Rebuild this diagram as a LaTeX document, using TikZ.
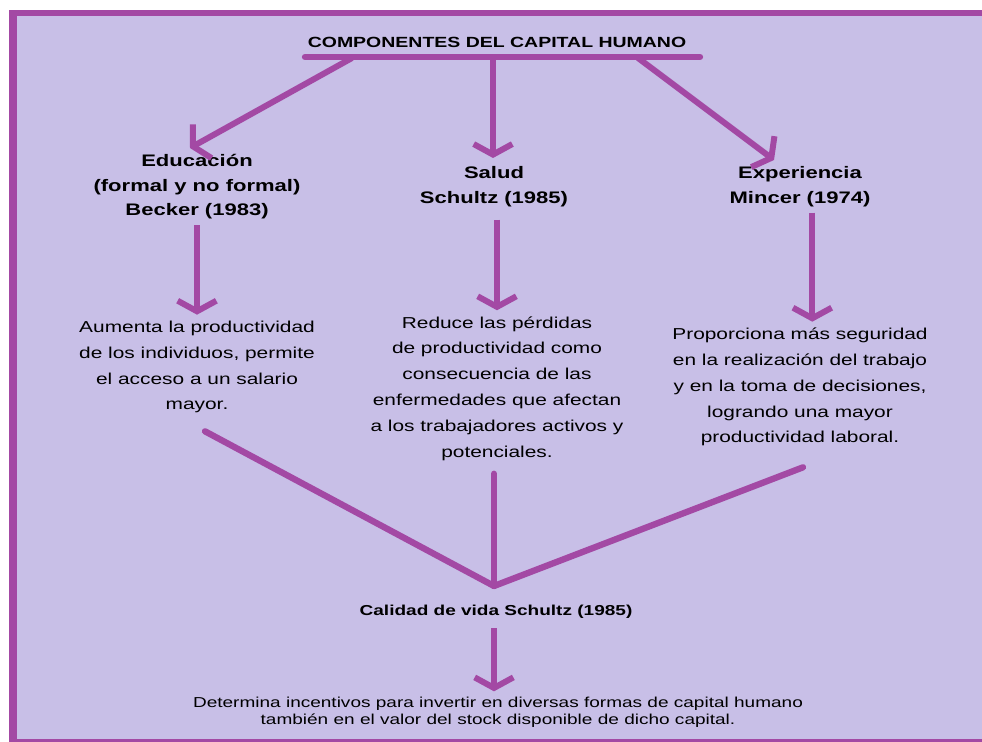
\documentclass[tikz,border=0pt]{standalone}
\usepackage{fontspec}
\setmainfont{Liberation Sans}[FakeStretch=1.32]
\usetikzlibrary{arrows.meta}
\definecolor{violeta}{HTML}{A349A4}
\definecolor{lila}{HTML}{C8BFE7}

\begin{document}
\begin{tikzpicture}[x=0.02cm,y=-0.02cm]

\tikzset{comp/.style = {font=\bfseries\fontsize{9.5}{13.9}\selectfont, align=center}}
\tikzset{efecto/.style = {font=\fontsize{9}{14.7}\selectfont, align=center}}
\tikzset{arc/.style = {-{Straight Barb[length=6pt,width=22pt]}, draw=violeta, line width=3.4pt}}
\tikzset{linea/.style = {draw=violeta, line width=3.6pt, line cap=round}}

% marco
\useasboundingbox (0,0) rectangle (982,742);
\fill[lila] (9,10) rectangle (982,742);
\fill[violeta] (9,10) rectangle (982,16);
\fill[violeta] (9,10) rectangle (17,742);
\fill[violeta] (9,739) rectangle (982,742);

% titulo y barra
\node[font=\bfseries\fontsize{8.4}{10}\selectfont] (titulo) at (497,42) {COMPONENTES DEL CAPITAL HUMANO};
\coordinate (barL) at (305,57);
\coordinate (barR) at (700,57);
\coordinate (b1) at (352,58);
\coordinate (b2) at (493,58);
\coordinate (b3) at (638,58);
\coordinate (t1) at (190,148);
\coordinate (t2) at (493,158);
\coordinate (t3) at (774,160);

% componentes
\node[comp] (edu) at (197,187) {Educación\\(formal y no formal)\\Becker (1983)};
\node[comp] (salud) at (494,186.5) {Salud\\Schultz (1985)};
\node[comp] (exper) at (800,186.5) {Experiencia\\Mincer (1974)};

% efectos
\node[efecto] (aum) at (197,367) {Aumenta la productividad\\de los individuos, permite\\el acceso a un salario\\mayor.};
\node[efecto] (red) at (497,388.5) {Reduce las pérdidas\\de productividad como\\consecuencia de las\\enfermedades que afectan\\a los trabajadores activos y\\potenciales.};
\node[efecto] (prop) at (800,387) {Proporciona más seguridad\\en la realización del trabajo\\y en la toma de decisiones,\\logrando una mayor\\productividad laboral.};

% calidad de vida
\coordinate (meet) at (494,586);
\node[font=\bfseries\fontsize{8.2}{10}\selectfont] (cal) at (496,612) {Calidad de vida Schultz (1985)};
\node[font=\fontsize{8.2}{9.4}\selectfont, align=center] (det) at (498,712.5) {Determina incentivos para invertir en diversas formas de capital humano\\también en el valor del stock disponible de dicho capital.};

% arcs
\draw[linea] (barL) -- (barR);
\draw[arc] (b1) -- (t1);
\draw[arc] (b2) -- (t2);
\draw[arc] (b3) -- (t3);
\draw[arc] (edu.south) -- (aum.north);
\draw[arc, shorten <=4pt] (red.north |- salud.south) -- (red.north);
\draw[arc] ([xshift=7pt]exper.south) -- ([xshift=7pt]prop.north);

% lineas hacia calidad de vida
\draw[linea] ([shift={(8,12)}]aum.south) -- (meet);
\draw[linea] ([yshift=-4pt]meet |- red.south) -- (meet);
\draw[linea] ([shift={(3,15)}]prop.south) -- (meet);
\draw[arc, shorten <=2pt] (meet |- cal.south) -- (meet |- det.north);

\end{tikzpicture}
\end{document}
